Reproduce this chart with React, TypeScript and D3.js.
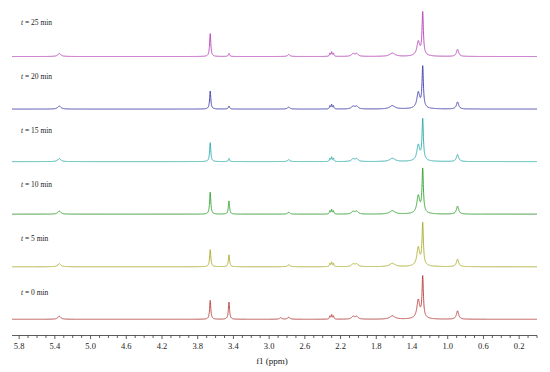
import * as d3 from 'd3';

// stacked 1H NMR spectra, one trace per reaction time
const times = ['25', '20', '15', '10', '5', '0'];
const traceColors = ['#b23fb4', '#3b3ba8', '#2aa9a9', '#2c9e2c', '#a9a92a', '#b43c3c'];

// peak list (ppm) and half widths (ppm)
const peakPpm = [5.35, 3.66, 3.45, 2.87, 2.78, 2.32, 2.30, 2.28, 2.06, 2.02, 1.62, 1.33, 1.30, 1.28, 0.89];
const peakWidth = [0.02, 0.008, 0.008, 0.015, 0.015, 0.006, 0.006, 0.006, 0.02, 0.02, 0.035, 0.018, 0.06, 0.009, 0.015];

// peak intensities per trace (main CH2 peak ~ 100)
const h25 = [7, 52, 7, 0, 4.5, 7, 10, 7, 6, 6, 7.5, 30, 4, 95, 16];
const h20 = [7, 41, 7, 0, 4.5, 7, 10, 7, 6, 6, 7.5, 34, 4, 91, 16];
const h15 = [7, 43, 7, 0, 4.5, 7, 10, 7, 6, 6, 7.5, 34, 4, 91, 16];
const h10 = [7, 50, 30, 0, 4.5, 7, 10, 7, 6, 6, 7.5, 38, 4, 97, 18];
const h5 = [7, 39, 27, 0, 4.5, 7, 10, 7, 6, 6, 7.5, 40, 4, 93, 17];
const h0 = [7, 43, 39, 3.5, 4.5, 7, 10, 7, 6, 6, 7.5, 40, 4, 91, 19];
const heights = [h25, h20, h15, h10, h5, h0];

const tickLabels = ['5.8', '5.4', '5.0', '4.6', '4.2', '3.8', '3.4', '3.0', '2.6', '2.2', '1.8', '1.4', '1.0', '0.6', '0.2'];

const W = 550;
const H = 372;
const serif = "'Liberation Serif', 'DejaVu Serif', serif";

export default function App() {
  const x = d3.scaleLinear().domain([5.88, 0]).range([12, 537]);
  const base = d3.scalePoint<string>().domain(times).range([56.5, 319.3]);
  const labelY = d3.scalePoint<string>().domain(times).range([25, 294.5]);
  const amp = d3.scaleLinear().domain([0, 100]).range([0, 44]);

  const grid = d3.range(0, 5881).map(i => 5.88 - i * 0.001);
  const minorTicks = d3.range(0, 59).map(i => i / 10);

  const spectrum = (hs: number[]) =>
    grid.map(p => {
      let s = 0;
      peakPpm.forEach((c, k) => {
        const w = peakWidth[k];
        s += (hs[k] * w * w) / ((p - c) * (p - c) + w * w);
      });
      return [p, s] as [number, number];
    });

  const axisY = 335.5;

  return (
    <svg width={W} height={H} style={{ position: 'absolute', left: 0, top: 0, background: '#fff' }}>
      {times.map((t, i) => {
        const b = base(t)!;
        const line = d3
          .line<[number, number]>()
          .x(d => x(d[0]))
          .y(d => b - amp(d[1]));
        return (
          <g key={t}>
            <path d={line(spectrum(heights[i])) || ''} fill="none" stroke={traceColors[i]} strokeWidth={0.9} />
            <text x={21} y={labelY(t)} fontFamily={serif} fontSize={7.5} fill="#222">
              <tspan fontStyle="italic">t</tspan> = {t} min
            </text>
          </g>
        );
      })}

      <line x1={x(5.88)} x2={x(0)} y1={axisY} y2={axisY} stroke="#333" strokeWidth={0.8} />
      {minorTicks.map(v => {
        const major = tickLabels.includes(v.toFixed(1));
        return (
          <line
            key={v}
            x1={x(v)}
            x2={x(v)}
            y1={axisY}
            y2={axisY + (major ? 3.5 : 2.5)}
            stroke="#333"
            strokeWidth={0.8}
          />
        );
      })}
      {tickLabels.map(l => (
        <text key={l} x={x(+l)} y={349} textAnchor="middle" fontFamily={serif} fontSize={8.5} fill="#222">
          {l}
        </text>
      ))}
      <text x={272} y={363.5} textAnchor="middle" fontFamily={serif} fontSize={9} fill="#222">
        f1 (ppm)
      </text>
    </svg>
  );
}
